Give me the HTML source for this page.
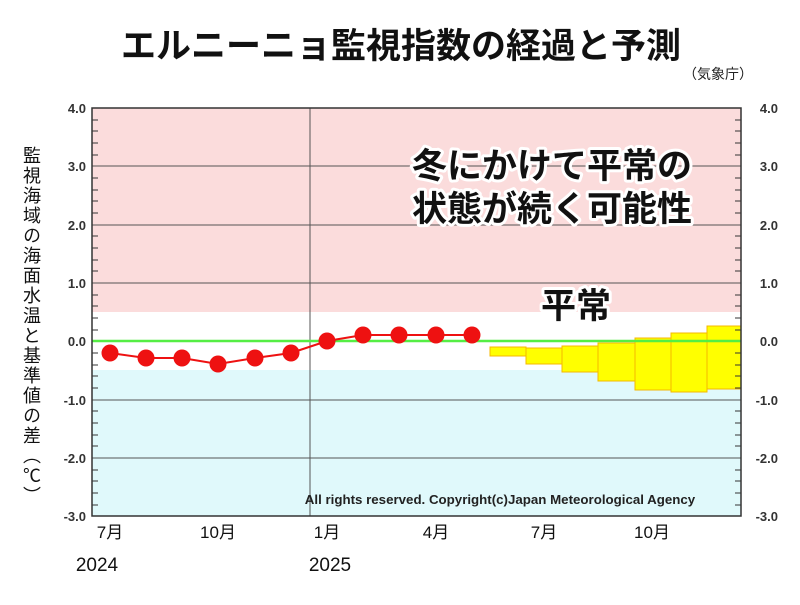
<!DOCTYPE html>
<html><head><meta charset="utf-8"><style>
body{margin:0;background:#fff;width:800px;height:600px;overflow:hidden}
svg text{font-family:"Liberation Sans","Noto Sans CJK JP",sans-serif}
</style></head><body>
<svg width="800" height="600" xmlns="http://www.w3.org/2000/svg">
<text x="401" y="58" text-anchor="middle" font-size="35" font-weight="bold" fill="#111">エルニーニョ監視指数の経過と予測</text>
<text x="718" y="79" text-anchor="middle" font-size="14" fill="#222">（気象庁）</text>
<rect x="92" y="108" width="649" height="204" fill="#fbdcdc"/>
<rect x="92" y="370" width="649" height="146" fill="#e0f9fb"/>
<g stroke="#555" stroke-width="1">
<line x1="92" y1="166" x2="741" y2="166"/><line x1="92" y1="225" x2="741" y2="225"/><line x1="92" y1="283" x2="741" y2="283"/>
<line x1="92" y1="400" x2="741" y2="400"/><line x1="92" y1="458" x2="741" y2="458"/>
<line x1="310" y1="108" x2="310" y2="516"/>
</g>
<g fill="#ffff00" stroke="#f5b800" stroke-width="1">
<rect x="490" y="347" width="36" height="9"/>
<rect x="526" y="348" width="36" height="16"/>
<rect x="562" y="346" width="36" height="26"/>
<rect x="598" y="343" width="37" height="38"/>
<rect x="635" y="338" width="36" height="52"/>
<rect x="671" y="333" width="36" height="59"/>
<rect x="707" y="326" width="34" height="63"/>
</g>
<line x1="92" y1="341" x2="741" y2="341" stroke="#55ee44" stroke-width="2.5"/>
<polyline fill="none" stroke="#ee1111" stroke-width="2" points="110,353 146,358 182,358 218,364 255,358 291,353 327,341 363,335 399,335 436,335 472,335"/>
<g fill="#ee1111">
<circle cx="110" cy="353" r="8.5"/><circle cx="146" cy="358" r="8.5"/><circle cx="182" cy="358" r="8.5"/><circle cx="218" cy="364" r="8.5"/><circle cx="255" cy="358" r="8.5"/><circle cx="291" cy="353" r="8.5"/><circle cx="327" cy="341" r="8.5"/><circle cx="363" cy="335" r="8.5"/><circle cx="399" cy="335" r="8.5"/><circle cx="436" cy="335" r="8.5"/><circle cx="472" cy="335" r="8.5"/>
</g>
<rect x="92" y="108" width="649" height="408" fill="none" stroke="#333" stroke-width="1.5"/>
<g stroke="#333" stroke-width="1">
<path d="M92 120h6M92 131h6M92 143h6M92 155h6M92 178h6M92 190h6M92 201h6M92 213h6M92 236h6M92 248h6M92 260h6M92 271h6M92 295h6M92 306h6M92 318h6M92 330h6M92 353h6M92 365h6M92 376h6M92 388h6M92 411h6M92 423h6M92 435h6M92 446h6M92 470h6M92 481h6M92 493h6M92 505h6"/>
<path d="M741 120h-6M741 131h-6M741 143h-6M741 155h-6M741 178h-6M741 190h-6M741 201h-6M741 213h-6M741 236h-6M741 248h-6M741 260h-6M741 271h-6M741 295h-6M741 306h-6M741 318h-6M741 330h-6M741 353h-6M741 365h-6M741 376h-6M741 388h-6M741 411h-6M741 423h-6M741 435h-6M741 446h-6M741 470h-6M741 481h-6M741 493h-6M741 505h-6"/>
</g>
<g font-size="13" font-weight="bold" fill="#333" text-anchor="end">
<text x="86" y="113">4.0</text><text x="86" y="171">3.0</text><text x="86" y="230">2.0</text><text x="86" y="288">1.0</text><text x="86" y="346">0.0</text><text x="86" y="405">-1.0</text><text x="86" y="463">-2.0</text><text x="86" y="521">-3.0</text>
</g>
<g font-size="13" font-weight="bold" fill="#333" text-anchor="end">
<text x="778" y="113">4.0</text><text x="778" y="171">3.0</text><text x="778" y="230">2.0</text><text x="778" y="288">1.0</text><text x="778" y="346">0.0</text><text x="778" y="405">-1.0</text><text x="778" y="463">-2.0</text><text x="778" y="521">-3.0</text>
</g>
<g font-size="17" fill="#111" text-anchor="middle">
<text x="110" y="538">7月</text><text x="218" y="538">10月</text><text x="327" y="538">1月</text><text x="436" y="538">4月</text><text x="544" y="538">7月</text><text x="652" y="538">10月</text>
</g>
<g font-size="19" fill="#111" text-anchor="middle">
<text x="97" y="571">2024</text><text x="330" y="571">2025</text>
</g>
<text font-size="18" fill="#111" x="31" y="146" style="writing-mode:vertical-rl;letter-spacing:2px">監視海域の海面水温と基準値の差（℃）</text>
<text x="500" y="504" text-anchor="middle" font-size="13.3" font-weight="bold" fill="#222">All rights reserved. Copyright(c)Japan Meteorological Agency</text>
<g font-size="35" font-weight="bold" fill="#111" stroke="#fff" stroke-width="6" paint-order="stroke" stroke-linejoin="round">
<text x="552" y="178" text-anchor="middle">冬にかけて平常の</text>
<text x="552" y="221" text-anchor="middle">状態が続く可能性</text>
<text x="576" y="318" text-anchor="middle">平常</text>
</g>
</svg>
</body></html>
